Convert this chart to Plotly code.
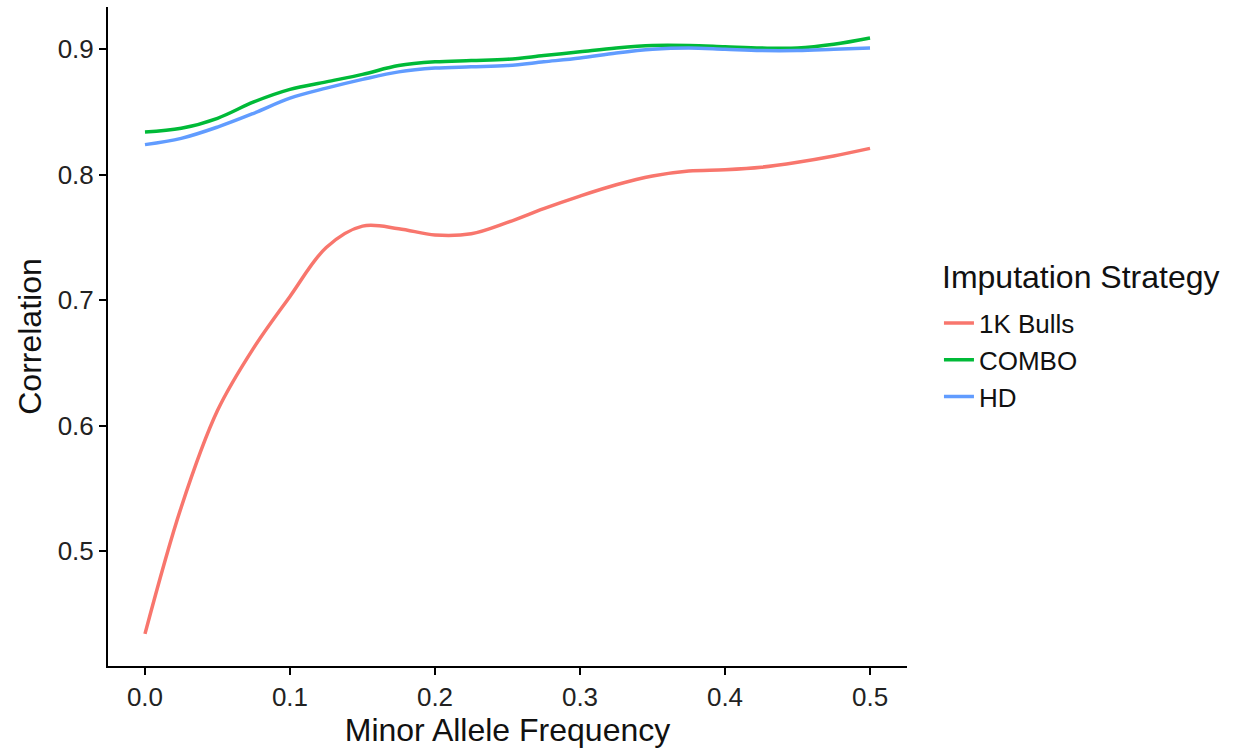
import plotly.graph_objects as go

maf = [0.0, 0.025, 0.05, 0.075, 0.1, 0.125, 0.15, 0.175, 0.2, 0.225, 0.25,
       0.275, 0.3, 0.325, 0.35, 0.375, 0.4, 0.425, 0.45, 0.475, 0.5]

bulls_1k = [0.434, 0.535, 0.612, 0.662, 0.703, 0.742, 0.759, 0.757, 0.752, 0.753, 0.762,
            0.773, 0.783, 0.792, 0.799, 0.803, 0.804, 0.806, 0.810, 0.815, 0.821]
combo = [0.834, 0.837, 0.845, 0.858, 0.868, 0.874, 0.880, 0.887, 0.890, 0.891, 0.892,
         0.895, 0.898, 0.901, 0.903, 0.903, 0.902, 0.901, 0.901, 0.904, 0.909]
hd = [0.824, 0.829, 0.838, 0.849, 0.861, 0.869, 0.876, 0.882, 0.885, 0.886, 0.887,
      0.890, 0.893, 0.897, 0.900, 0.901, 0.900, 0.899, 0.899, 0.900, 0.901]

series = [("1K Bulls", bulls_1k, "#F8766D"),
          ("COMBO", combo, "#00BA38"),
          ("HD", hd, "#619CFF")]

x_ticks = [0.0, 0.1, 0.2, 0.3, 0.4, 0.5]
x_tick_labels = ["0.0", "0.1", "0.2", "0.3", "0.4", "0.5"]
y_ticks = [0.5, 0.6, 0.7, 0.8, 0.9]
y_tick_labels = ["0.5", "0.6", "0.7", "0.8", "0.9"]
legend_title = "Imputation Strategy"

fig = go.Figure()
for name, vals, col in series:
    fig.add_trace(go.Scatter(x=maf, y=vals, name=name, mode="lines",
                             line=dict(color=col, width=3.5, shape="spline", smoothing=1.0)))

font_family = "Liberation Sans, Arial, sans-serif"
fig.update_layout(
    width=1239, height=748,
    margin=dict(l=108, r=332, t=7, b=82),
    plot_bgcolor="white", paper_bgcolor="white",
    font=dict(family=font_family, color="#1a1a1a"),
    xaxis=dict(range=[-0.0255, 0.5255], tickvals=x_ticks, ticktext=x_tick_labels,
               showgrid=False, zeroline=False, showline=True, linecolor="black",
               linewidth=2, ticks="outside", ticklen=7, tickwidth=2, tickcolor="black",
               tickfont=dict(size=26, color="#222"),
               title=dict(text="Minor Allele Frequency", font=dict(size=32, color="#111"), standoff=4)),
    yaxis=dict(range=[0.4084, 0.9337], tickvals=y_ticks, ticktext=y_tick_labels,
               showgrid=False, zeroline=False, showline=True, linecolor="black",
               linewidth=2, ticks="outside", ticklen=7, tickwidth=2, tickcolor="black",
               tickfont=dict(size=26, color="#222"),
               title=dict(text="Correlation", font=dict(size=32, color="#111"), standoff=6)),
    legend=dict(x=1.04, y=0.556, xanchor="left", yanchor="top",
                font=dict(size=26, color="#111"), tracegroupgap=0,
                itemwidth=30, bgcolor="rgba(0,0,0,0)"),
    annotations=[dict(text=legend_title, xref="paper", yref="paper",
                      x=1.0413, y=0.590, xanchor="left", yanchor="middle",
                      showarrow=False, font=dict(size=32, color="#111"))],
)

fig.write_html("out.html")
